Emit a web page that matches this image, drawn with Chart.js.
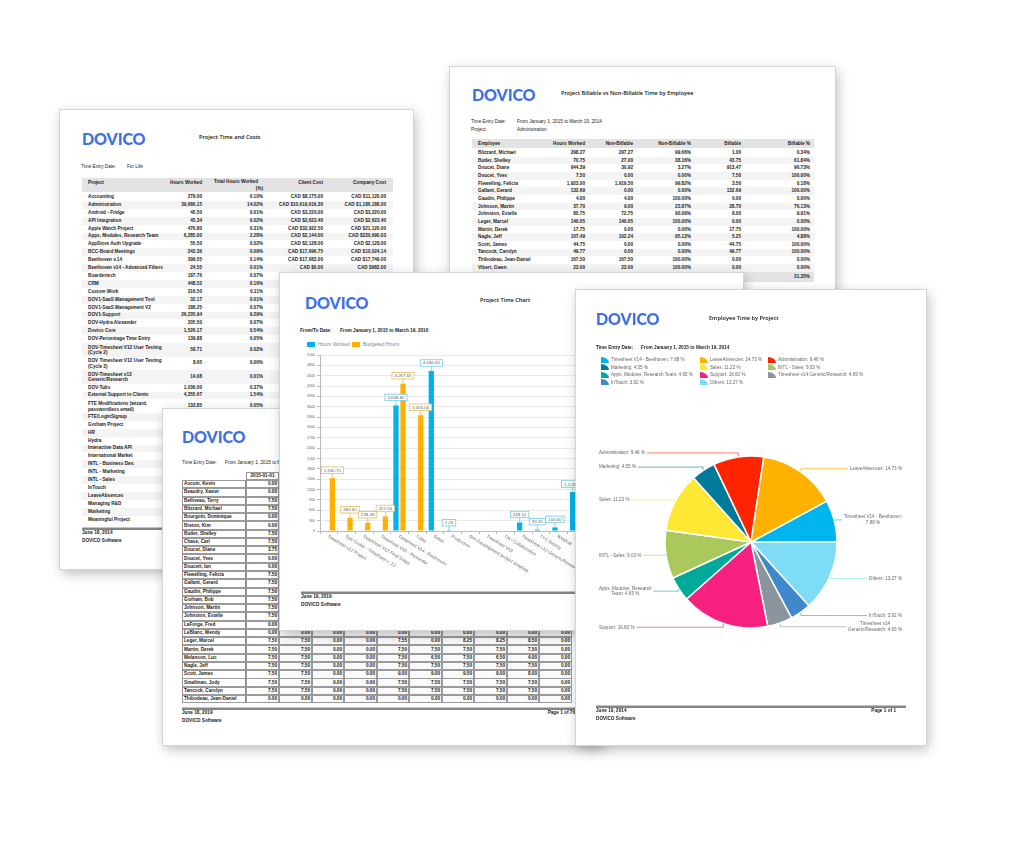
<!DOCTYPE html>
<html><head><meta charset="utf-8">
<script src="https://cdn.jsdelivr.net/npm/chart.js"></script>
<style>
html,body{margin:0;padding:0;background:#fff;width:1024px;height:864px;overflow:hidden}
.page{position:absolute;background:#fff;box-shadow:0 0 0 1px #d4d4d4,2px 4px 12px rgba(0,0,0,.28);overflow:hidden}
.t{position:absolute;white-space:pre;line-height:1}
.logo{font-family:Lato,'Open Sans',sans-serif;font-weight:900;font-size:16px;color:#3f6fe4;letter-spacing:-0.1px}
.ttl{font-family:'Open Sans',sans-serif;font-weight:600;font-size:5.6px;color:#111}
.nb{font-family:'Liberation Sans Narrow','Liberation Sans',sans-serif;font-weight:bold;font-size:4.7px;color:#222}
.nr{font-family:'Liberation Sans Narrow','Liberation Sans',sans-serif;font-size:4.7px;color:#222}
.lt{font-family:'Liberation Sans',Arial,sans-serif;font-size:4.6px;color:#666}
.band{position:absolute;background:#e3e3e3}
.stripe{position:absolute;background:#f4f4f4}
.fline{position:absolute;height:2px;background:#858585;border-top:1px solid #c4c4c4}
.cell{position:absolute;box-sizing:border-box;border:0.8px solid #9a9a9a}
.icon{position:absolute;width:8px;height:6px;border-top-right-radius:8px 6px}
canvas{position:absolute}
</style></head><body>
<div id="A" class="page" style="left:60px;top:110px;width:353px;height:459px"></div>
<div id="B" class="page" style="left:450px;top:67px;width:385px;height:380px"></div>
<div id="C" class="page" style="left:163px;top:409px;width:440px;height:336px"></div>
<div id="D" class="page" style="left:280px;top:273px;width:463px;height:357px"></div>
<div id="E" class="page" style="left:576px;top:290px;width:350px;height:455px"></div>
<script>
// ---------------- Pie chart data (Employee Time by Project) ----------------
const pieLabels = ['Timesheet V14 - Beethoven','LeaveAbsences','Administration','Marketing','Sales','INTL - Sales','Apps, Modules, Research Team','Support','Timesheet v14 Generic/Research','InTouch','Others'];
const piePercents = [7.88,14.73,9.46,4.55,11.22,9.03,4.65,16.60,4.69,3.92,13.27];
const pieColors = ['#00b5ee','#ffb100','#ff2400','#007a9a','#ffe733','#abc85c','#00a99a','#f6207f','#8a959e','#3f88cc','#7edcf7'];
const pieBreakAfter = ['Beethoven:',null,null,null,null,null,'Research',null,'v14',null,null];

// ---------------- Bar chart data (Project Time Chart) ----------------
const barCategories = ['Timesheet v12 Project','Test Cruise - Timesheet v. 12','Timesheet V12 Final Stage','Timesheet V13 - Alexander','Timesheet V14 - Beethoven','Tubla','Sales','Production','Sim-Development project template','Timesheet V13','TM / Collaboration','Timesheet v12 Generic/Research','TTC Testing','Webinar','Apple Watch Project'];
const hoursWorked   = [0,0,0,0,3638.82,0,4636.65,7.25,0,0,0,248.41,39.25,104.00,1128.60];
const budgetedHours = [1530.75,383.50,239.49,422.50,4267.65,3355.00,0,0,0,0,0,0,0,0,0];
const yMax = 5100, yStep = 300;

// ---------------- Project Time and Costs ----------------
const projectNames = ['Accounting','Administration','Android - Fridge','API Integration','Apple Watch Project','Apps, Modules, Research Team','AppStore Auth Upgrade','BCC-Board Meetings','Beethoven v.14','Beethoven v14 - Advanced Filters','Boardertech','CRM','Custom Work','DOV1-SaaS Management Tool','DOV1-SaaS Management V2','DOV1-Support','DOV-Hydra Alexander','Dovico Core','DOV-Percentage Time Entry','DOV-Timesheet V12 User Testing\n(Cycle 2)','DOV Timesheet V12 User Testing\n(Cycle 3)','DOV-Timesheet v13\nGeneric/Research','DOV-Tubs','External Support to Clients','FTE Modifications (wizard,\npasswordless email)','FTE/LoginSignup','Gorham Project','HR','Hydra','Interactive Data API','International Market','INTL - Business Dev.','INTL - Marketing','INTL - Sales','InTouch','LeaveAbsences','Managing R&D','Marketing','Meaningful Project'];
const projectHours = ['279.00','39,686.15','40.50','45.34','476.80','6,285.00','55.50','242.36','399.55','24.55','187.76','448.52','316.50','32.17','188.25','26,235.94','205.50','1,526.17','139.88','58.71','8.65','14.08','1,036.00','4,355.67','133.85'];
const projectPct = ['0.10%','14.02%','0.01%','0.02%','0.31%','2.28%','0.02%','0.09%','0.14%','0.01%','0.07%','0.16%','0.11%','0.01%','0.07%','9.29%','0.07%','0.54%','0.05%','0.02%','0.00%','0.01%','0.37%','1.54%','0.05%'];
const projectClient = ['CAD $8,175.00','CAD $10,619,616.30','CAD $3,220.00','CAD $2,622.40','CAD $32,922.50','CAD $2,144.00','CAD $2,128.00','CAD $17,696.75','CAD $17,683.00','CAD $0.00'];
const projectCompany = ['CAD $11,120.00','CAD $1,186,188.00','CAD $3,220.00','CAD $2,622.40','CAD $21,120.00','CAD $220,690.03','CAD $2,128.00','CAD $10,024.14','CAD $17,749.00','CAD $982.00'];

// ---------------- Billable vs Non-Billable ----------------
const empNames = ['Blizzard, Michael','Butler, Shelley','Doucet, Diane','Doucet, Yves','Flewelling, Felicia','Gallant, Gerard','Gaudin, Philippe','Johnson, Martin','Johnston, Estelle','Leger, Marcel','Martin, Derek','Nagle, Jeff','Scott, James','Tancock, Carolyn','Thibodeau, Jean-Daniel','Vibert, Gwen'];
const empHours = ['298.27','70.75','944.39','7.50','1,923.00','132.69','4.00','37.70','80.75','140.65','17.75','107.49','44.75','49.77','167.50','23.00'];
const empNonBill = ['297.27','27.00','30.92','0.00','1,919.50','0.00','4.00','9.00','72.75','140.65','0.00','102.24','0.00','0.00','167.50','23.00'];
const empNonBillPct = ['99.66%','38.16%','3.27%','0.00%','99.82%','0.00%','100.00%','23.87%','90.09%','100.00%','0.00%','95.12%','0.00%','0.00%','100.00%','100.00%'];
const empBill = ['1.00','43.75','913.47','7.50','3.50','132.69','0.00','28.70','8.00','0.00','17.75','5.25','44.75','49.77','0.00','0.00'];
const empBillPct = ['0.34%','61.84%','96.73%','100.00%','0.18%','100.00%','0.00%','76.13%','9.91%','0.00%','100.00%','4.88%','100.00%','100.00%','0.00%','0.00%'];
const empTotalBillPct = '31.35%';

// ---------------- Timesheet grid ----------------
const tsNames = ['Ascoin, Kevin','Beaudry, Xavier','Belliveau, Terry','Blizzard, Michael','Bourgoin, Dominique','Breton, Kim','Butler, Shelley','Chase, Carl','Doucet, Diane','Doucet, Yves','Doucett, Ian','Flewelling, Felicia','Gallant, Gerard','Gaudin, Philippe','Gorham, Bob','Johnson, Martin','Johnston, Estelle','LaForge, Fred','LeBlanc, Wendy','Leger, Marcel','Martin, Derek','Melanson, Luc','Nagle, Jeff','Scott, James','Smallman, Jody','Tancock, Carolyn','Thibodeau, Jean-Daniel'];
const tsFirstDay = ['0.00','0.00','7.50','7.50','0.00','0.00','7.50','7.50','3.75','0.00','0.00','7.50','7.50','7.50','7.50','7.50','7.50','0.00','0.00','7.50','7.50','7.50','7.50','7.50','7.50','7.50','0.00'];
const tsLaterDays = { // rows 18..26, columns 2..10
 18:['0.00','0.00','0.00','0.00','0.00','0.00','0.00','0.00','0.00'],
 19:['7.50','0.00','0.00','7.55','0.00','8.25','8.25','8.50','0.00'],
 20:['7.50','0.00','0.00','7.50','7.50','7.50','7.50','7.50','0.00'],
 21:['7.50','0.00','0.00','7.50','6.50','7.50','6.50','4.00','0.00'],
 22:['7.50','0.00','0.00','7.50','7.50','7.50','7.50','7.50','0.00'],
 23:['7.50','0.00','0.00','9.00','9.00','9.50','9.00','8.00','0.00'],
 24:['7.50','0.00','0.00','7.50','7.50','7.50','7.50','7.50','0.00'],
 25:['7.50','0.00','0.00','7.50','7.50','7.50','7.50','7.50','0.00'],
 26:['0.00','0.00','0.00','0.00','0.00','0.00','0.00','0.00','0.00']
};

// ---------------- helpers ----------------
function T(page,x,y,s,cls,align,extra){
  const d=document.createElement('div'); d.className='t '+cls; d.textContent=s;
  d.style.left=x+'px'; d.style.top=y+'px';
  const tx=align==='r'?'-100%':align==='c'?'-50%':'0';
  d.style.transform='translate('+tx+',-50%)';
  if(align==='r') d.style.textAlign='right'; if(align==='c') d.style.textAlign='center';
  if(extra) Object.assign(d.style,extra);
  page.appendChild(d); return d;
}
function box(page,cls,x,y,w,h,style){const d=document.createElement('div');d.className=cls;Object.assign(d.style,{left:x+'px',top:y+'px',width:w+'px',height:h+'px'},style||{});page.appendChild(d);return d;}
function footer(page,x,y,w,date,pageTxt,pageX){
  box(page,'fline',x,y,w,2);
  T(page,x,y+6,date,'nb'); T(page,x,y+14,'DOVICO Software','nr',null,{fontWeight:'bold'});
  if(pageTxt) T(page,pageX,y+6,pageTxt,'nb','r');
}
const A=document.getElementById('A'),B=document.getElementById('B'),C=document.getElementById('C'),D=document.getElementById('D'),E=document.getElementById('E');

// ---------------- Page A ----------------
T(A,22,29,'DOVICO','logo'); T(A,139,28,'Project Time and Costs','ttl');
T(A,21,57,'Time Entry Date:','nr'); T(A,67,57,'For Life','nr');
box(A,'band',22,68,311,14);
T(A,28,73,'Project','nb'); T(A,142,73,'Hours Worked','nb','r'); T(A,198,72,'Total Hours Worked','nb','r'); T(A,203,79,'(%)','nb','r');
T(A,263,73,'Client Cost','nb','r'); T(A,326,73,'Company Cost','nb','r');
(function(){let top=83;projectNames.forEach((n,i)=>{const h=n.includes('\n')?13.5:7.9;const cy=top+h/2;
  if(i%2===1) box(A,'stripe',22,top,311,h);
  T(A,28,cy,n,'nb',null,{lineHeight:'5.4px'});
  if(projectHours[i]) T(A,142,cy,projectHours[i],'nb','r');
  if(projectPct[i]) T(A,203,cy,projectPct[i],'nb','r');
  if(projectClient[i]) T(A,263,cy,projectClient[i],'nb','r');
  if(projectCompany[i]) T(A,326,cy,projectCompany[i],'nb','r');
  top+=h;});})();
footer(A,22,417,311,'June 18, 2014');

// ---------------- Page B ----------------
T(B,22,28,'DOVICO','logo'); T(B,111,27,'Project Billable vs Non-Billable Time by Employee','ttl');
T(B,21,55,'Time Entry Date:','nr'); T(B,67,55,'From January 1, 2015 to March 19, 2014','nr');
T(B,21,63,'Project:','nr'); T(B,67,63,'Administration','nr');
box(B,'band',22,72,342,9);
const bCols=[135,183,241,291,360];
T(B,28,77,'Employee','nb');['Hours Worked','Non-Billable','Non-Billable %','Billable','Billable %'].forEach((h,i)=>T(B,bCols[i],77,h,'nb','r'));
empNames.forEach((n,i)=>{const cy=86+i*7.65; if(i%2===1) box(B,'stripe',22,cy-3.8,342,7.65);
  T(B,28,cy,n,'nb');[empHours,empNonBill,empNonBillPct,empBill,empBillPct].forEach((arr,k)=>T(B,bCols[k],cy,arr[i],'nb','r'));});
box(B,'band',22,204.5,342,10); T(B,360,209.5,empTotalBillPct,'nb','r');

// ---------------- Page C ----------------
T(C,19,28,'DOVICO','logo');
T(C,19,54,'Time Entry Date:','nr'); T(C,62,54,'From January 1, 2015 to March 19, 2016','nr');
const cX=[19,83,116,149,181,214,246,279,311,344,376,409];
box(C,'cell',cX[1],63,cX[2]-cX[1],8.3); T(C,(cX[1]+cX[2])/2,67.2,'2015-01-01','nb','c');
tsNames.forEach((n,r)=>{const top=71+r*8.27,cy=top+4.15;
  box(C,'cell',cX[0],top,cX[1]-cX[0],8.3,{borderRight:'1.4px solid #8a8a8a'}); T(C,cX[0]+2,cy,n,'nb');
  box(C,'cell',cX[1],top,cX[2]-cX[1],8.3); T(C,cX[2]-2,cy,tsFirstDay[r],'nb','r');
  const later=tsLaterDays[r];
  for(let c=2;c<=10;c++){box(C,'cell',cX[c],top,cX[c+1]-cX[c],8.3,{background:'#fafafa'}); if(later) T(C,cX[c+1]-2,cy,later[c-2],'nb','r');}
});
footer(C,19,298,400,'June 18, 2019','Page 1 of 76',412);

// ---------------- Page D (bar chart) ----------------
T(D,25,30,'DOVICO','logo'); T(D,200,28,'Project Time Chart','ttl');
T(D,20,58,'From/To Date:','nb'); T(D,60,58,'From January 1, 2015 to March 19, 2016','nb');
box(D,'',27,68.5,8,5,{position:'absolute',background:'#00b3ee'}); T(D,38,71,'Hours Worked','lt',null,{fontSize:'5px',color:'#888'});
box(D,'',72,68.5,8,5,{position:'absolute',background:'#ffb000'}); T(D,83,71,'Budgeted Hours','lt',null,{fontSize:'5px',color:'#888'});
footer(D,21,318,420,'June 19, 2019');
const barCanvas=document.createElement('canvas'); barCanvas.width=305; barCanvas.height=235;
barCanvas.style.left='0px'; barCanvas.style.top='77px'; D.appendChild(barCanvas);

// ---------------- Page E (pie chart) ----------------
T(E,20,29,'DOVICO','logo'); T(E,133,29,'Employee Time by Project','ttl');
T(E,20,58,'Time Entry Date:','nb'); T(E,65,58,'From January 1, 2015 to March 19, 2014','nb');
const legX=[25,124,192];
pieLabels.forEach((n,i)=>{const col=i%3,row=Math.floor(i/3);const y=70+row*7.6;
  box(E,'icon',legX[col],y-3.5,8,6,{background:pieColors[i]});
  T(E,legX[col]+10,y,n+': '+piePercents[i].toFixed(2)+' %','lt');});
footer(E,20,415,310,'June 19, 2014','Page 1 of 1',320);
const pieCanvas=document.createElement('canvas'); pieCanvas.width=330; pieCanvas.height=210;
pieCanvas.style.left='10px'; pieCanvas.style.top='150px'; E.appendChild(pieCanvas);

// ---------------- Charts ----------------
Chart.defaults.font.family='"Liberation Sans", Arial, sans-serif';
Chart.defaults.color='#666';

const barValueLabels={id:'barValueLabels',afterDatasetsDraw(chart){
  const ctx=chart.ctx;ctx.save();ctx.font='4.4px "Liberation Sans", Arial';ctx.textAlign='center';ctx.textBaseline='middle';
  chart.data.datasets.forEach((ds,di)=>{const meta=chart.getDatasetMeta(di);
    meta.data.forEach((bar,i)=>{const v=ds.data[i];if(!v)return;
      const txt=v.toLocaleString('en-US',{minimumFractionDigits:2,maximumFractionDigits:2});
      const w=ctx.measureText(txt).width+5,h=6.5,cx=bar.x,cy=bar.y-8;
      ctx.strokeStyle=ds.labelBorder;ctx.lineWidth=0.8;
      ctx.beginPath();ctx.moveTo(cx,bar.y);ctx.lineTo(cx,cy+h/2);ctx.stroke();
      ctx.fillStyle='#fff';ctx.fillRect(cx-w/2,cy-h/2,w,h);ctx.strokeRect(cx-w/2,cy-h/2,w,h);
      ctx.fillStyle='#666';ctx.fillText(txt,cx,cy+0.3);});});
  ctx.restore();}};
const barXLabels={id:'barXLabels',afterDraw(chart){
  const {ctx,chartArea}=chart;const xs=chart.scales.x;ctx.save();
  ctx.font='4.5px "Liberation Sans", Arial';ctx.fillStyle='#666';ctx.textAlign='left';ctx.textBaseline='middle';
  chart.data.labels.forEach((l,i)=>{const x=xs.getPixelForValue(i);ctx.save();ctx.translate(x-1,chartArea.bottom+5);ctx.rotate(31*Math.PI/180);ctx.fillText(l,0,0);ctx.restore();});
  ctx.restore();}};

new Chart(barCanvas,{type:'bar',
  data:{labels:barCategories,datasets:[
    {label:'Hours Worked',data:hoursWorked,backgroundColor:'#00b3ee',labelBorder:'#6ccbe8',categoryPercentage:0.8,barPercentage:0.75},
    {label:'Budgeted Hours',data:budgetedHours,backgroundColor:'#ffb000',labelBorder:'#dcc05a',categoryPercentage:0.8,barPercentage:0.75}]},
  options:{responsive:false,animation:false,devicePixelRatio:1,
    layout:{padding:{top:5,right:0,left:0,bottom:0}},
    plugins:{legend:{display:false},tooltip:{enabled:false}},
    scales:{
      x:{offset:true,grid:{display:true,drawOnChartArea:false,tickLength:3,color:'#bbb',offset:true},border:{color:'#bbb'},ticks:{display:false},afterFit(s){s.height=54;}},
      y:{min:0,max:yMax,ticks:{stepSize:yStep,font:{size:3.6},color:'#666',padding:2,callback:v=>String(v)},grid:{color:'#e9e9e9',tickLength:3,tickColor:'#bbb'},border:{color:'#bbb'},afterFit(s){s.width=40;}}
    }},
  plugins:[barValueLabels,barXLabels]});

const pieOrder=[0,10,9,8,7,6,5,4,3,2,1];
const pieOuterLabels={id:'pieOuterLabels',afterDatasetsDraw(chart){
  const ctx=chart.ctx;const meta=chart.getDatasetMeta(0);ctx.save();
  ctx.font='4.6px "Liberation Sans", Arial';ctx.textBaseline='middle';
  meta.data.forEach((arc,k)=>{const idx=pieOrder[k];
    const p=arc.getProps(['x','y','startAngle','endAngle','outerRadius'],true);
    const mid=(p.startAngle+p.endAngle)/2,c=Math.cos(mid),s=Math.sin(mid);
    const px=p.x+c*(p.outerRadius+0.5),py=p.y+s*(p.outerRadius+0.5),ly=p.y+s*(p.outerRadius+4);
    const full=pieLabels[idx]+': '+piePercents[idx].toFixed(2)+' %';
    let lines=[full];const brk=pieBreakAfter[idx];
    if(brk){const j=full.indexOf(brk)+brk.length;lines=[full.slice(0,j),full.slice(j).trim()];}
    const w=Math.max(...lines.map(l=>ctx.measureText(l).width));
    const right=c>=0;const bx=right?316-w:13;const endX=right?bx-2:bx+w+2;
    ctx.strokeStyle=pieColors[idx];ctx.globalAlpha=0.75;ctx.lineWidth=0.8;
    ctx.beginPath();ctx.moveTo(px,py);ctx.lineTo(px,ly);ctx.lineTo(endX,ly);ctx.stroke();ctx.globalAlpha=1;
    ctx.fillStyle='#666';ctx.textAlign='center';
    const lh=5.5;lines.forEach((l,n)=>ctx.fillText(l,bx+w/2,ly+(n-(lines.length-1)/2)*lh));});
  ctx.restore();}};

new Chart(pieCanvas,{type:'pie',
  data:{labels:pieOrder.map(i=>pieLabels[i]),datasets:[{data:pieOrder.map(i=>piePercents[i]),backgroundColor:pieOrder.map(i=>pieColors[i]),borderColor:'#fff',borderWidth:1.5,hoverOffset:0}]},
  options:{responsive:false,animation:false,devicePixelRatio:1,rotation:90-360*piePercents[0]/100,
    layout:{padding:{left:78.25,right:78.25,top:15.25,bottom:21.25}},
    plugins:{legend:{display:false},tooltip:{enabled:false}}},
  plugins:[pieOuterLabels]});
</script>
</body></html>
